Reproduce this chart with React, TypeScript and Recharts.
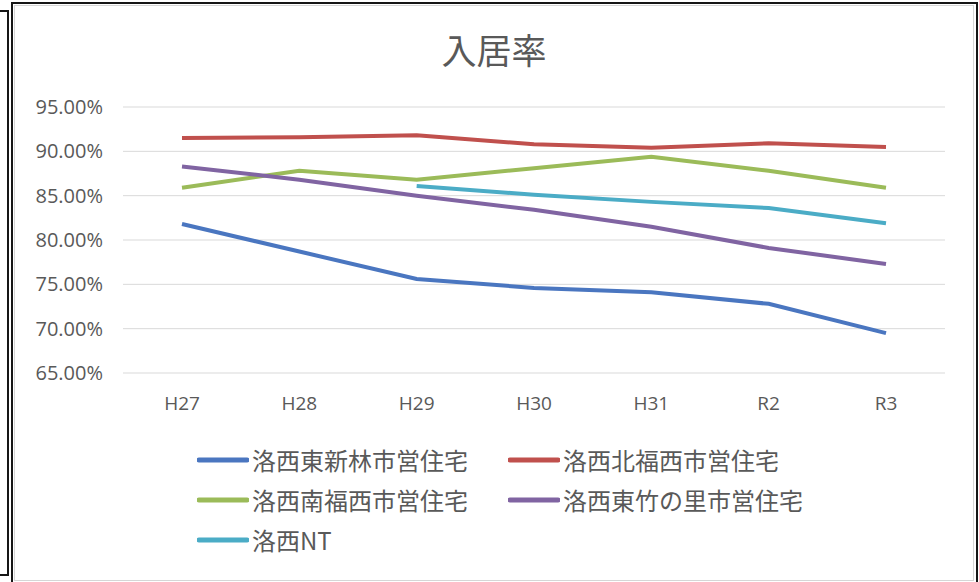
import React from "react";
import { LineChart, Line, XAxis, YAxis, CartesianGrid } from "recharts";

// Fiscal years
const years = ["H27", "H28", "H29", "H30", "H31", "R2", "R3"];

// Occupancy rate (%) per housing estate
const shinbayashi = [81.8, 78.7, 75.6, 74.6, 74.1, 72.8, 69.5];
const kitaFukunishi = [91.5, 91.6, 91.8, 90.8, 90.4, 90.9, 90.5];
const minamiFukunishi = [85.9, 87.8, 86.8, 88.1, 89.4, 87.8, 85.9];
const takenosato = [88.3, 86.8, 85.0, 83.4, 81.5, 79.1, 77.3];
const rakusaiNT = [null, null, 86.1, 85.1, 84.3, 83.6, 81.9];

const yTicks = [65, 70, 75, 80, 85, 90, 95];

const series = [
  { key: "s1", name: "洛西東新林市営住宅", color: "#4A76C0", values: shinbayashi },
  { key: "s2", name: "洛西北福西市営住宅", color: "#C0504D", values: kitaFukunishi },
  { key: "s3", name: "洛西南福西市営住宅", color: "#9BBB59", values: minamiFukunishi },
  { key: "s4", name: "洛西東竹の里市営住宅", color: "#8064A2", values: takenosato },
  { key: "s5", name: "洛西NT", color: "#4BACC6", values: rakusaiNT },
];

const data = years.map((y, i) => {
  const row: Record<string, string | number | null> = { year: y };
  series.forEach((s) => {
    row[s.key] = s.values[i];
  });
  return row;
});

const textColor = "#595959";
const font = "'Open Sans', 'Noto Sans CJK JP', sans-serif";
const cjkFont = "'Noto Sans CJK JP', sans-serif";

export default function App() {
  return (
    <div
      style={{
        position: "absolute",
        left: 0,
        top: 0,
        width: 979,
        height: 582,
        overflow: "hidden",
        background: "#fff",
      }}
    >
      {/* neighbouring frame on the left */}
      <div
        style={{
          position: "absolute",
          left: -10,
          top: 10,
          width: 15,
          height: 562,
          border: "2px solid #161616",
        }}
      />
      {/* chart frame */}
      <div
        style={{
          position: "absolute",
          left: 11,
          top: 2,
          width: 963,
          height: 600,
          border: "2px solid #161616",
        }}
      />
      <div
        style={{
          position: "absolute",
          left: 14,
          top: 5,
          width: 958,
          height: 574,
          border: "1px solid #D6D6D6",
        }}
      />
      <div
        style={{
          position: "absolute",
          left: 11,
          width: 966,
          top: 26,
          textAlign: "center",
          fontFamily: cjkFont,
          fontSize: 35,
          lineHeight: "46px",
          color: textColor,
        }}
      >
        入居率
      </div>
      <div style={{ position: "absolute", left: 0, top: 0 }}>
        <LineChart
          width={979}
          height={582}
          data={data}
          margin={{ top: 107, right: 34, bottom: 179, left: 23 }}
        >
          <CartesianGrid vertical={false} stroke="#D9D9D9" strokeWidth={1} />
          <XAxis
            dataKey="year"
            axisLine={false}
            tickLine={false}
            tickSize={0}
            tickMargin={24}
            height={30}
            padding={{ left: 59, right: 59 }}
            tick={{ fill: textColor, fontSize: 19, fontFamily: font }}
          />
          <YAxis
            domain={[65, 95]}
            ticks={yTicks}
            width={100}
            axisLine={false}
            tickLine={false}
            tickSize={0}
            tickMargin={20}
            tickFormatter={(v: number) => v.toFixed(2) + "%"}
            tick={{ fill: textColor, fontSize: 20, fontFamily: font }}
          />
          {series.map((s) => (
            <Line
              key={s.key}
              dataKey={s.key}
              name={s.name}
              stroke={s.color}
              strokeWidth={4}
              dot={false}
              activeDot={false}
              type="linear"
              isAnimationActive={false}
            />
          ))}
        </LineChart>
      </div>
      {/* legend, two columns */}
      <div
        style={{
          position: "absolute",
          left: 197,
          top: 440,
          display: "grid",
          gridTemplateColumns: "311px auto",
          rowGap: 0,
          fontFamily: cjkFont,
          fontSize: 24,
          color: textColor,
        }}
      >
        {series.map((s) => (
          <div
            key={s.key}
            style={{ display: "flex", alignItems: "center", height: 40 }}
          >
            <svg width={52} height={8} style={{ marginRight: 3 }}>
              <line
                x1={2}
                y1={4}
                x2={50}
                y2={4}
                stroke={s.color}
                strokeWidth={5}
                strokeLinecap="round"
              />
            </svg>
            <span style={{ lineHeight: "40px", whiteSpace: "nowrap" }}>{s.name}</span>
          </div>
        ))}
      </div>
    </div>
  );
}
